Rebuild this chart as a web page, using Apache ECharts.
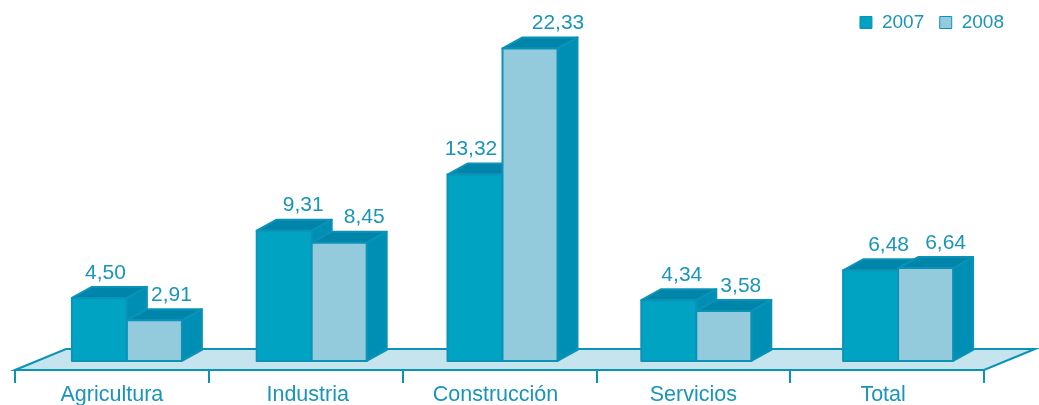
<!DOCTYPE html>
<html>
<head>
<meta charset="utf-8">
<style>html,body{margin:0;padding:0;background:#fff}#c{width:1039px;height:405px}</style>
<script src="https://cdn.jsdelivr.net/npm/echarts@6/dist/echarts.min.js"></script>
</head>
<body>
<div id="c"></div>
<script>
var categories = ['Agricultura', 'Industria', 'Construcción', 'Servicios', 'Total'];
var values2007 = [4.50, 9.31, 13.32, 4.34, 6.48];
var values2008 = [2.91, 8.45, 22.33, 3.58, 6.64];

// layout tuning (pixels), separate from the data
var groupNudge = [15, 6, 3, 3, 11];
var labelShift2007 = [6, 19, -4, 13, 18];
var labelShift2008 = [17, 25, 28, 17, 20];
var axisLabelNudge = [0, 2, -4, 0, -4];
var BAR_W = 55, DX = 20, DY = 11;
var FONT = '"Liberation Sans", Arial, sans-serif';
var INK = '#1a94b8', EDGE = '#0b93b7', SIDE = '#008fb4', TOP = '#0085aa';
var FLOOR = '#c6e4ed', FRONT07 = '#00a3c2', FRONT08 = '#93cbdc';

function fmt(v) { return v.toFixed(2).replace('.', ','); }
function poly(pts, fill) {
  return { type: 'polygon', shape: { points: pts }, style: { fill: fill, stroke: EDGE, lineWidth: 2, lineJoin: 'round' } };
}
function barRenderer(colIndex, front, shifts) {
  return function (params, api) {
    var i = api.value(0), v = api.value(1);
    var base = api.coord([i, 0]), top = api.coord([i, v]);
    var c = base[0] + groupNudge[i];
    var x0 = colIndex === 0 ? c - BAR_W : c, x1 = x0 + BAR_W;
    var y0 = base[1], y1 = top[1];
    return {
      type: 'group',
      children: [
        poly([[x1, y0], [x1 + DX, y0 - DY], [x1 + DX, y1 - DY], [x1, y1]], SIDE),
        poly([[x0, y1], [x0 + DX, y1 - DY], [x1 + DX, y1 - DY], [x1, y1]], TOP),
        poly([[x0, y0], [x1, y0], [x1, y1], [x0, y1]], front),
        { type: 'text', x: (x0 + x1) / 2 + shifts[i], y: y1 - 25, z2: 10,
          style: { text: fmt(v), fill: INK, font: '21px ' + FONT, align: 'center', verticalAlign: 'middle' } }
      ]
    };
  };
}
function floorRenderer(params, api) {
  var cs = params.coordSys;
  var yFront = cs.y + cs.height, yBack = api.coord([0, 0])[1] - 12;
  var xL = cs.x, xR = cs.x + cs.width;
  return { type: 'polygon', shape: { points: [[xL, yFront], [xL + 51, yBack], [xR + 51, yBack], [xR, yFront]] },
    style: { fill: FLOOR, stroke: EDGE, lineWidth: 2 } };
}
function rows(arr) { return arr.map(function (v, i) { return [i, v]; }); }

var richLabels = {};
axisLabelNudge.forEach(function (n, i) {
  richLabels['n' + i] = {
    color: INK, fontFamily: FONT, fontSize: 21.5,
    padding: [0, n < 0 ? -2 * n : 0, 0, n > 0 ? 2 * n : 0]
  };
});

var chart = echarts.init(document.getElementById('c'), null, { renderer: 'canvas' });
chart.setOption({
  animation: false,
  backgroundColor: '#fff',
  grid: { left: 15, right: 55, top: 11, bottom: 35, containLabel: false, outerBoundsMode: 'none' },
  legend: {
    data: [
      { name: '2007', itemStyle: { color: FRONT07, borderColor: EDGE, borderWidth: 1 } },
      { name: '2008', itemStyle: { color: FRONT08, borderColor: EDGE, borderWidth: 1 } }
    ],
    right: 30, top: 8, itemWidth: 12, itemHeight: 12, itemGap: 15, icon: 'rect',
    selectedMode: false,
    textStyle: { color: INK, fontFamily: FONT, fontSize: 19, padding: [0, 0, 0, 5] }
  },
  xAxis: {
    type: 'category', data: categories, boundaryGap: true,
    axisLine: { show: true, onZero: false, lineStyle: { color: EDGE, width: 2 } },
    axisTick: { show: true, length: 13, lineStyle: { color: EDGE, width: 2 } },
    axisLabel: {
      color: INK, fontFamily: FONT, fontSize: 21.5, margin: 14, interval: 0,
      formatter: function (value, index) { return '{n' + index + '|' + value + '}'; },
      rich: richLabels
    }
  },
  yAxis: { type: 'value', min: -0.643, max: 25, show: false, splitLine: { show: false } },
  series: [
    { type: 'custom', name: 'floor', data: [[0, 0]], renderItem: floorRenderer, clip: false, silent: true, z: 1 },
    { type: 'custom', name: '2007', data: rows(values2007), encode: { x: 0, y: 1 }, renderItem: barRenderer(0, FRONT07, labelShift2007), clip: false, z: 3, itemStyle: { color: FRONT07 } },
    { type: 'custom', name: '2008', data: rows(values2008), encode: { x: 0, y: 1 }, renderItem: barRenderer(1, FRONT08, labelShift2008), clip: false, z: 4, itemStyle: { color: FRONT08 } }
  ]
});
</script>
</body>
</html>
